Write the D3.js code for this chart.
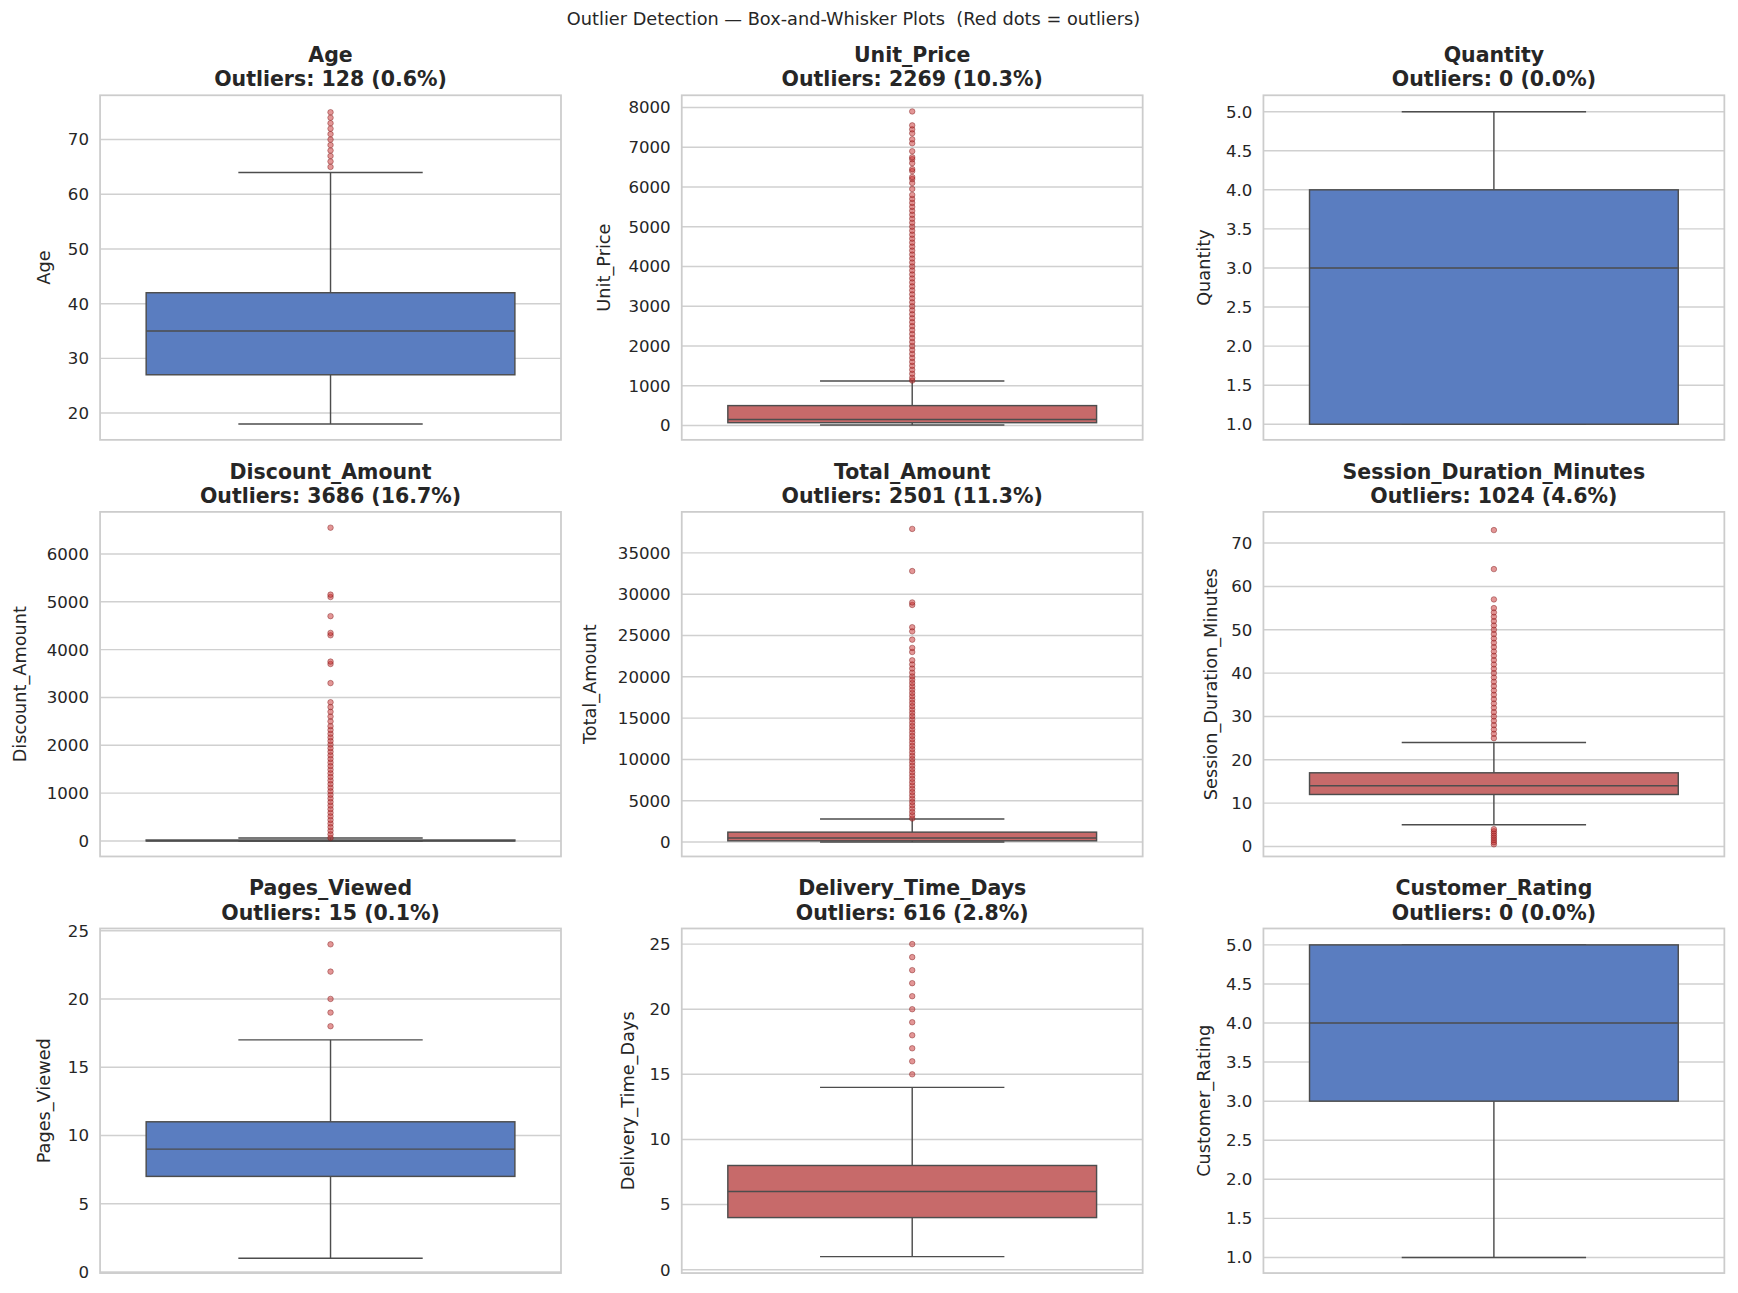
<!DOCTYPE html>
<html><head><meta charset="utf-8">
<script src="https://cdn.jsdelivr.net/npm/d3@7"></script>
<style>body{margin:0;background:#fff}text{font-family:"DejaVu Sans",sans-serif;fill:#262626}</style>
</head><body><svg id="c" width="1738" height="1293" viewBox="0 0 1568 1167"></svg>
<script>
const names=["Age","Unit_Price","Quantity","Discount_Amount","Total_Amount","Session_Duration_Minutes","Pages_Viewed","Delivery_Time_Days","Customer_Rating"];
const outlierLabels=["128 (0.6%)","2269 (10.3%)","0 (0.0%)","3686 (16.7%)","2501 (11.3%)","1024 (4.6%)","15 (0.1%)","616 (2.8%)","0 (0.0%)"];
// [whislo,q1,med,q3,whishi]
const stats=[[18,27,35,42,64],[10,70,150,500,1120],[1,1,3,4,5],[0,0,5,20,60],[10,150,500,1200,2800],[5,12,14,17,24],[1,7,9,11,17],[1,4,6,8,14],[1,3,4,5,5]];
const domains=[[15.1,78.1],[-362,8307],[0.8,5.21],[-324,6880],[-1743,39962],[-2.3,77.2],[-0.08,25.16],[-0.26,26.2],[0.8,5.21]];
const tickVals=[[20,30,40,50,60,70],[0,1000,2000,3000,4000,5000,6000,7000,8000],[1,1.5,2,2.5,3,3.5,4,4.5,5],[0,1000,2000,3000,4000,5000,6000],[0,5000,10000,15000,20000,25000,30000,35000],[0,10,20,30,40,50,60,70],[0,5,10,15,20,25],[0,5,10,15,20,25],[1,1.5,2,2.5,3,3.5,4,4.5,5]];
const tickFormats=["d","d",".1f","d","d","d","d","d",".1f"];
const colors=["blue","red","blue","red","red","red","blue","red","blue"];
const outliers=[
[65,66,67,68,69,70,71,72,73,74,75],
[1130,1200,1300,1400,1500,1600,1700,1800,1900,2000,2100,2200,2300,2400,2500,2600,2700,2800,2900,3000,3100,3200,3300,3400,3500,3600,3700,3800,3900,4000,4100,4200,4300,4400,4500,4600,4700,4800,4900,5000,5100,5200,5300,5400,5500,5600,5700,5800,5950,6100,6200,6250,6400,6450,6600,6700,6750,6900,7100,7200,7350,7450,7550,7900],
[],
[65,140,215,290,365,440,515,590,665,740,815,890,965,1040,1115,1190,1265,1340,1415,1490,1565,1640,1715,1790,1865,1940,2015,2090,2165,2240,2320,2400,2500,2600,2700,2800,2900,3300,3700,3750,4300,4350,4700,5100,5150,6550],
[2850,3250,3650,4050,4450,4850,5250,5650,6050,6450,6850,7250,7650,8050,8450,8850,9250,9650,10050,10450,10850,11250,11650,12050,12450,12850,13250,13650,14050,14450,14850,15250,15650,16050,16450,16850,17250,17650,18050,18450,18850,19250,19650,20050,20500,21000,21500,22000,23000,23500,24500,25500,26000,28700,29000,32800,37900],
[0.5,1,1.5,2,2.5,3,3.5,4,25,26,27,28,29,30,31,32,33,34,35,36,37,38,39,40,41,42,43,44,45,46,47,48,49,50,51,52,53,54,55,57,64,73],
[18,19,20,22,24],
[15,16,17,18,19,20,21,22,23,24,25],
[]];
const fills={blue:"#5a7dc0",red:"#c76a6a"};
const labelOffsets=[-50,-70,-53,-72,-82,-47,-50,-48,-53];
const svg=d3.select("#c");
svg.append("text").attr("x",770).attr("y",23).attr("text-anchor","middle").style("font-size","16px").text("Outlier Detection — Box-and-Whisker Plots  (Red dots = outliers)").attr("xml:space","preserve");
const colX=[90,615,1140],rowY=[86,462,838],W=416,H=311;
names.forEach((n,i)=>{
  const x0=colX[i%3],y0=rowY[Math.floor(i/3)];
  const g=svg.append("g").attr("transform",`translate(${x0},${y0})`);
  const y=d3.scaleLinear().domain(domains[i]).range([H,0]);
  g.append("g").selectAll("line").data(tickVals[i]).join("line").attr("x1",0).attr("x2",W).attr("y1",d=>y(d)).attr("y2",d=>y(d)).attr("stroke","#d0d0d0").attr("stroke-width",1.3);
  const ax=g.append("g").call(d3.axisLeft(y).tickValues(tickVals[i]).tickSize(0).tickPadding(10).tickFormat(d3.format(tickFormats[i])));
  ax.select(".domain").remove();
  ax.selectAll("text").style("font-size","15px").style("fill","#262626");
  g.append("rect").attr("width",W).attr("height",H).attr("fill","none").attr("stroke","#cccccc").attr("stroke-width",1.6);
  const s=stats[i],bx=W*0.1,bw=W*0.8,cx=W/2,cw=W*0.2;
  const st="#4d4d4d";
  g.append("line").attr("x1",cx).attr("x2",cx).attr("y1",y(s[0])).attr("y2",y(s[1])).attr("stroke",st).attr("stroke-width",1.3);
  g.append("line").attr("x1",cx).attr("x2",cx).attr("y1",y(s[3])).attr("y2",y(s[4])).attr("stroke",st).attr("stroke-width",1.3);
  [s[0],s[4]].forEach(v=>g.append("line").attr("x1",cx-cw).attr("x2",cx+cw).attr("y1",y(v)).attr("y2",y(v)).attr("stroke",st).attr("stroke-width",1.3));
  g.append("rect").attr("x",bx).attr("width",bw).attr("y",y(s[3])).attr("height",Math.max(0.5,y(s[1])-y(s[3]))).attr("fill",fills[colors[i]]).attr("stroke",st).attr("stroke-width",1.3);
  g.append("line").attr("x1",bx).attr("x2",bx+bw).attr("y1",y(s[2])).attr("y2",y(s[2])).attr("stroke",st).attr("stroke-width",1.3);
  g.append("g").selectAll("circle").data(outliers[i]).join("circle").attr("cx",cx).attr("cy",d=>y(d)).attr("r",2.5)
    .attr("fill","rgba(200,45,45,0.5)").attr("stroke","rgba(120,20,20,0.55)").attr("stroke-width",0.7);
  g.append("text").attr("transform",`translate(${labelOffsets[i]+5},${H/2}) rotate(-90)`).attr("text-anchor","middle").style("font-size","16px").text(n);
  g.append("text").attr("x",W/2).attr("y",-30).attr("text-anchor","middle").style("font-size","18.5px").style("font-weight","bold").text(n);
  g.append("text").attr("x",W/2).attr("y",-8).attr("text-anchor","middle").style("font-size","18.5px").style("font-weight","bold").text("Outliers: "+outlierLabels[i]);
});
</script></body></html>
